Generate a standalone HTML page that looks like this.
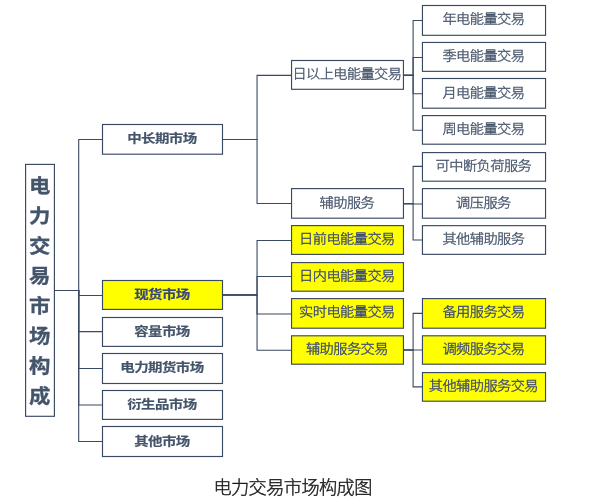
<!DOCTYPE html>
<html lang="zh-CN">
<head>
<meta charset="utf-8">
<title>电力交易市场构成图</title>
<style>
html,body{margin:0;padding:0;background:#fff;}
body{width:614px;height:502px;overflow:hidden;font-family:"Liberation Sans", "Noto Sans CJK SC", sans-serif;}
svg{display:block;will-change:transform;}
svg text{font-family:"Liberation Sans", "Noto Sans CJK SC", sans-serif;text-anchor:middle;dominant-baseline:central;fill:#44546a;}
.ln path{stroke:#3a4962;stroke-width:1.1;fill:none;stroke-linejoin:miter;}
.bx rect{stroke:#3a4962;stroke-width:1.15;}
.rt{font-size:20.2px;font-weight:700;stroke:#44546a;stroke-width:0.3px;}
.t1{font-size:13.9px;font-weight:700;letter-spacing:-0.55px;stroke:#44546a;stroke-width:0.2px;}
.t2{font-size:13.7px;font-weight:300;stroke:#44546a;stroke-width:0.36px;letter-spacing:-0.55px;}
.t1.y{fill:#37467c;stroke:#37467c;}
.t2.y{fill:#37467c;stroke:#37467c;}
.cap{font-size:18.2px;font-weight:300;fill:#1c1c1c;stroke:#1c1c1c;stroke-width:0.42px;letter-spacing:-0.6px;}
</style>
</head>
<body>
<svg width="614" height="502" viewBox="0 0 614 502">
<rect x="0" y="0" width="614" height="502" fill="#ffffff" stroke="none"/>
<g class="ln">
<path d="M54.4 290.5H78.7V139.5H102.5"/>
<path d="M54.4 290.5H78.7V295.5H102.5"/>
<path d="M54.4 290.5H78.7V331.6H102.5"/>
<path d="M54.4 290.5H78.7V368.5H102.5"/>
<path d="M54.4 290.5H78.7V405.0H102.5"/>
<path d="M54.4 290.5H78.7V441.5H102.5"/>
<path d="M222.5 139.5H257.05V75.4H291.55"/>
<path d="M222.5 139.5H257.05V203.5H291.55"/>
<path d="M222.5 295.0H257.05V240.45H291.55"/>
<path d="M222.5 295.0H257.05V276.45H291.55"/>
<path d="M222.5 295.0H257.05V314.0H291.55"/>
<path d="M222.5 295.0H257.05V350.3H291.55"/>
<path d="M403.45 75.4H413.1V20.5H422.45"/>
<path d="M403.45 75.4H413.1V57.45H422.45"/>
<path d="M403.45 75.4H413.1V93.8H422.45"/>
<path d="M403.45 75.4H413.1V130.3H422.45"/>
<path d="M403.45 203.8H413.1V166.4H422.45"/>
<path d="M403.45 203.8H413.1V204.0H422.45"/>
<path d="M403.45 203.8H413.1V240.0H422.45"/>
<path d="M403.45 350.0H413.1V313.4H422.45"/>
<path d="M403.45 350.0H413.1V350.05H422.45"/>
<path d="M403.45 350.0H413.1V386.9H422.45"/>
</g>
<g class="bx">
<rect x="25.6" y="164.4" width="28.8" height="251.9" fill="#ffffff"/>
<text class="rt" transform="translate(39.6 0) scale(1.06 0.98)"><tspan x="0" y="189.29">电</tspan><tspan x="0" y="219.86">力</tspan><tspan x="0" y="250.43">交</tspan><tspan x="0" y="281.00">易</tspan><tspan x="0" y="311.57">市</tspan><tspan x="0" y="342.14">场</tspan><tspan x="0" y="372.71">构</tspan><tspan x="0" y="403.29">成</tspan></text>
<rect x="102.5" y="124.5" width="120.0" height="29.7" fill="#ffffff"/>
<text class="t1" transform="translate(161.9 138.9) scale(1.04 0.87)">中长期市场</text>
<rect x="102.5" y="280.5" width="120.0" height="28.9" fill="#ffff00"/>
<text class="t1 y" transform="translate(161.9 294.6) scale(1.04 0.87)">现货市场</text>
<rect x="102.5" y="317.5" width="120.0" height="28.9" fill="#ffffff"/>
<text class="t1" transform="translate(161.9 331.6) scale(1.04 0.87)">容量市场</text>
<rect x="102.5" y="353.5" width="120.0" height="30.0" fill="#ffffff"/>
<text class="t1" transform="translate(161.9 368.1) scale(1.04 0.87)">电力期货市场</text>
<rect x="102.5" y="390.5" width="120.0" height="28.9" fill="#ffffff"/>
<text class="t1" transform="translate(161.9 404.6) scale(1.04 0.87)">衍生品市场</text>
<rect x="102.5" y="426.5" width="120.0" height="30.0" fill="#ffffff"/>
<text class="t1" transform="translate(161.9 441.8) scale(1.04 0.87)">其他市场</text>
<rect x="291.55" y="60.5" width="111.9" height="28.8" fill="#ffffff"/>
<text class="t2" style="font-size:13.65px" transform="translate(346.9 74.0) scale(1.04 0.95)">日以上电能量交易</text>
<rect x="291.55" y="188.6" width="111.9" height="29.6" fill="#ffffff"/>
<text class="t2" transform="translate(346.9 202.9) scale(1.04 0.95)">辅助服务</text>
<rect x="291.55" y="225.6" width="111.9" height="28.8" fill="#ffff00"/>
<text class="t2 y" transform="translate(346.9 238.7) scale(1.04 0.95)">日前电能量交易</text>
<rect x="291.55" y="262.6" width="111.9" height="28.6" fill="#ffff00"/>
<text class="t2 y" transform="translate(346.9 275.5) scale(1.04 0.95)">日内电能量交易</text>
<rect x="291.55" y="298.6" width="111.9" height="29.6" fill="#ffff00"/>
<text class="t2 y" transform="translate(346.9 312.0) scale(1.04 0.95)">实时电能量交易</text>
<rect x="291.55" y="335.8" width="111.9" height="28.4" fill="#ffff00"/>
<text class="t2 y" transform="translate(346.9 348.9) scale(1.04 0.95)">辅助服务交易</text>
<rect x="422.45" y="5.5" width="123.1" height="29.8" fill="#ffffff"/>
<text class="t2" transform="translate(483.4 18.8) scale(1.04 0.95)">年电能量交易</text>
<rect x="422.45" y="42.45" width="123.1" height="28.9" fill="#ffffff"/>
<text class="t2" transform="translate(483.4 55.4) scale(1.04 0.95)">季电能量交易</text>
<rect x="422.45" y="78.5" width="123.1" height="29.7" fill="#ffffff"/>
<text class="t2" transform="translate(483.4 92.7) scale(1.04 0.95)">月电能量交易</text>
<rect x="422.45" y="115.6" width="123.1" height="28.6" fill="#ffffff"/>
<text class="t2" transform="translate(483.4 128.6) scale(1.04 0.95)">周电能量交易</text>
<rect x="422.45" y="152.6" width="123.1" height="28.6" fill="#ffffff"/>
<text class="t2" transform="translate(483.4 165.5) scale(1.04 0.95)">可中断负荷服务</text>
<rect x="422.45" y="188.6" width="123.1" height="29.6" fill="#ffffff"/>
<text class="t2" transform="translate(483.4 202.9) scale(1.04 0.95)">调压服务</text>
<rect x="422.45" y="225.65" width="123.1" height="28.7" fill="#ffffff"/>
<text class="t2" transform="translate(483.4 238.6) scale(1.04 0.95)">其他辅助服务</text>
<rect x="422.45" y="298.6" width="123.1" height="29.6" fill="#ffff00"/>
<text class="t2 y" transform="translate(483.4 312.0) scale(1.04 0.95)">备用服务交易</text>
<rect x="422.45" y="335.8" width="123.1" height="28.4" fill="#ffff00"/>
<text class="t2 y" transform="translate(483.4 348.9) scale(1.04 0.95)">调频服务交易</text>
<rect x="422.45" y="372.6" width="123.1" height="28.6" fill="#ffff00"/>
<text class="t2 y" transform="translate(483.4 385.6) scale(1.04 0.95)">其他辅助服务交易</text>
</g>
<text class="cap" x="292.6" y="487.6">电力交易市场构成图</text>
</svg>
</body>
</html>
